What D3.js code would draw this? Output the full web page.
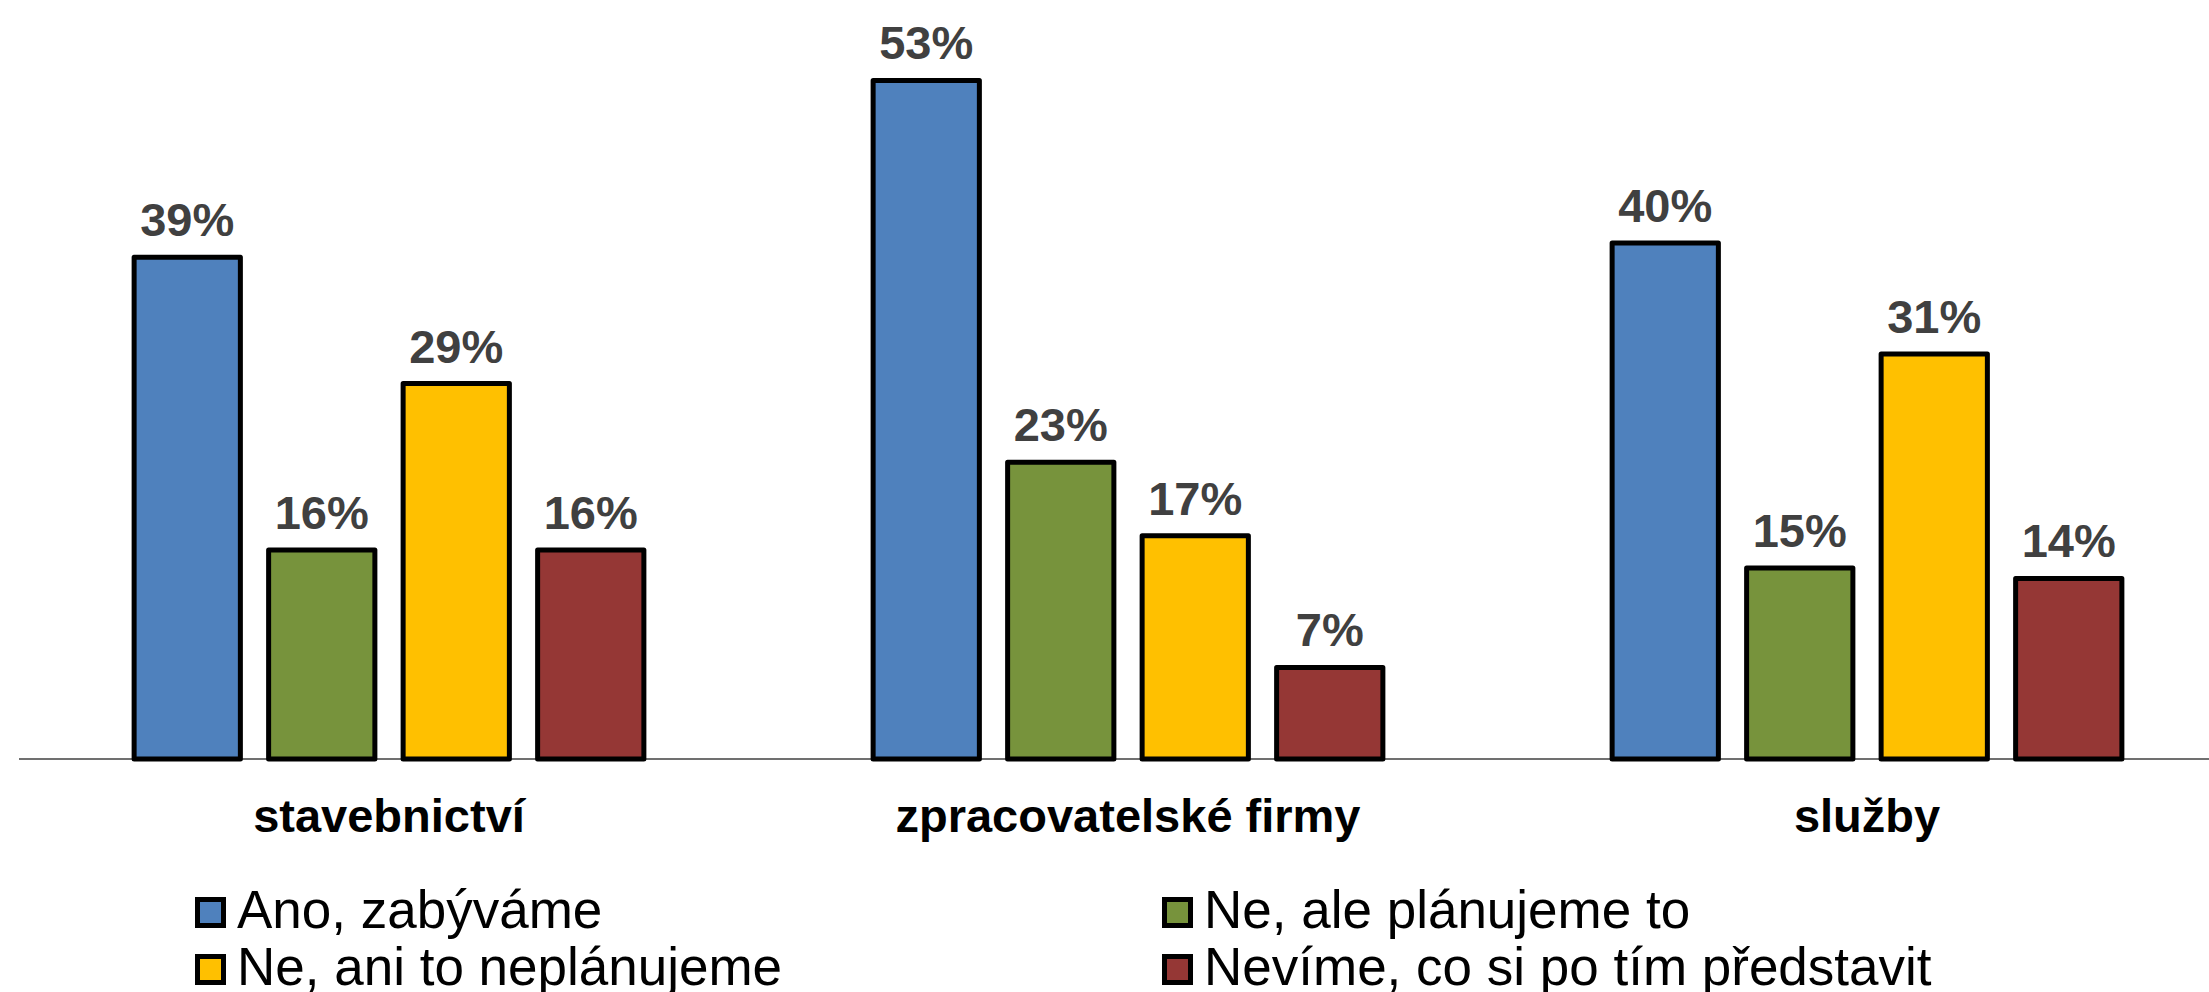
<!DOCTYPE html>
<html>
<head>
<meta charset="utf-8">
<script src="https://cdn.jsdelivr.net/npm/d3@7"></script>
<style>
  body { margin: 0; background: #fff; }
  svg { display: block; font-family: "Liberation Sans", Arial, sans-serif; }
</style>
</head>
<body>
<script>
// data (bar heights estimated, labels are rounded)
var categories = ["stavebnictví", "zpracovatelské firmy", "služby"];
var seriesNames = ["Ano, zabýváme", "Ne, ale plánujeme to", "Ne, ani to neplánujeme", "Nevíme, co si po tím představit"];
var seriesColors = ["#4F81BD", "#77933C", "#FFC000", "#953735"];
var ano = [38.9, 52.6, 40.0];
var planujeme = [16.2, 23.0, 14.8];
var neplanujeme = [29.1, 17.3, 31.4];
var nevime = [16.2, 7.1, 14.0];

var values = [ano, planujeme, neplanujeme, nevime];

var width = 2209, height = 992;
var baseY = 759;

var svg = d3.select("body").append("svg")
    .attr("width", width)
    .attr("height", height);

var x0 = d3.scalePoint()
    .domain(categories)
    .range([19.5, 2236.5])
    .padding(0.5);

var x1 = d3.scaleBand()
    .domain(d3.range(seriesNames.length))
    .range([-269, 269])
    .paddingInner(0.21)
    .paddingOuter(0.105);

var y = d3.scaleLinear()
    .domain([0, 60])
    .range([baseY, baseY - 774]);

// axis line
svg.append("line")
    .attr("x1", 19).attr("x2", width)
    .attr("y1", baseY).attr("y2", baseY)
    .attr("stroke", "#404040")
    .attr("stroke-width", 1.5);

var groups = svg.selectAll("g.grp")
    .data(categories)
    .enter().append("g")
    .attr("class", "grp")
    .attr("transform", function (d) { return "translate(" + x0(d) + ",0)"; });

groups.each(function (cat, ci) {
    var g = d3.select(this);
    var rows = values.map(function (s, si) { return { si: si, v: s[ci] }; });

    g.selectAll("rect")
        .data(rows)
        .enter().append("rect")
        .attr("x", function (d) { return x1(d.si); })
        .attr("y", function (d) { return y(d.v); })
        .attr("width", x1.bandwidth())
        .attr("height", function (d) { return y(0) - y(d.v); })
        .attr("fill", function (d) { return seriesColors[d.si]; })
        .attr("stroke", "#000")
        .attr("stroke-width", 5)
        .attr("stroke-linejoin", "round");

    g.selectAll("text.val")
        .data(rows)
        .enter().append("text")
        .attr("class", "val")
        .attr("x", function (d) { return x1(d.si) + x1.bandwidth() / 2; })
        .attr("y", function (d) { return y(d.v) - 21; })
        .attr("text-anchor", "middle")
        .attr("font-size", 47)
        .attr("font-weight", "bold")
        .attr("fill", "#404040")
        .text(function (d) { return Math.round(d.v) + "%"; });

    g.append("text")
        .attr("x", 0)
        .attr("y", 832)
        .attr("text-anchor", "middle")
        .attr("font-size", 47)
        .attr("font-weight", "bold")
        .attr("fill", "#000")
        .text(cat);
});

// legend, two columns
var legendX = [195, 1162];
var legendY = [928, 985];

var leg = svg.selectAll("g.leg")
    .data(seriesNames)
    .enter().append("g")
    .attr("class", "leg")
    .attr("transform", function (d, i) {
        return "translate(" + legendX[i % 2] + "," + legendY[Math.floor(i / 2)] + ")";
    });

leg.append("rect")
    .attr("x", 2.5)
    .attr("y", -28.5)
    .attr("width", 26)
    .attr("height", 26)
    .attr("fill", function (d, i) { return seriesColors[i]; })
    .attr("stroke", "#000")
    .attr("stroke-width", 5);

leg.append("text")
    .attr("x", 42)
    .attr("y", 0)
    .attr("font-size", 53)
    .attr("fill", "#000")
    .text(function (d) { return d; });
</script>
</body>
</html>
